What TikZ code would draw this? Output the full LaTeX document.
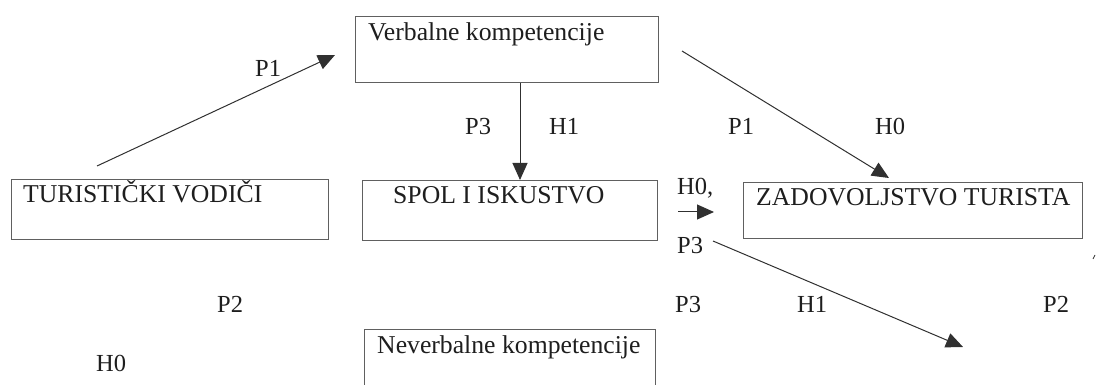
\documentclass[tikz,border=0pt]{standalone}
\usepackage{fontspec}
\setmainfont{Liberation Serif}
\usetikzlibrary{arrows.meta}
\definecolor{inkc}{HTML}{1E1E1E}
\definecolor{boxc}{HTML}{606060}
\definecolor{linec}{HTML}{303030}
\tikzset{
  boxshape/.style={draw=boxc, line width=1.1pt, inner sep=0pt, anchor=north west},
  boxtext/.style={anchor=base west, inner sep=0pt, text=inkc, font=\fontsize{25.7}{28}\selectfont},
  lbl/.style={anchor=base west, inner sep=0pt, text=inkc, font=\fontsize{24.5}{27}\selectfont},
  conn/.style={draw=linec, line width=1pt, -{Triangle[length=17pt,width=15pt]}},
}
\begin{document}
\begin{tikzpicture}[x=1pt,y=-1pt]
\useasboundingbox (0,0) rectangle (1096,385);
% boxes
\node[boxshape, minimum width=303pt, minimum height=66pt] (verb) at (355,16) {};
\node[boxshape, minimum width=317pt, minimum height=60pt] (tur) at (11,179) {};
\node[boxshape, minimum width=295pt, minimum height=60pt] (spol) at (362,180) {};
\node[boxshape, minimum width=339pt, minimum height=56pt] (zad) at (743,182) {};
\node[boxshape, minimum width=291pt, minimum height=80pt] (nev) at (364,329) {};
% box texts
\node[boxtext] (tverb) at (368,41) {Verbalne kompetencije};
\node[boxtext] (ttur) at (23,203) {TURISTIČKI VODIČI};
\node[boxtext] (tspol) at (393,204) {SPOL I ISKUSTVO};
\node[boxtext] (tzad) at (756,205) {ZADOVOLJSTVO TURISTA};
\node[boxtext] (tnev) at (377,353) {Neverbalne kompetencije};
% labels
\node[lbl] (l1) at (255,77) {P1};
\node[lbl] (l2) at (465,135) {P3};
\node[lbl] (l3) at (549,135) {H1};
\node[lbl] (l4) at (728,135) {P1};
\node[lbl] (l5) at (875,135) {H0};
\node[lbl] (l6) at (677,195) {H0,};
\node[lbl] (l7) at (677,253) {P3};
\node[lbl] (l8) at (217,312) {P2};
\node[lbl] (l9) at (675,312) {P3};
\node[lbl] (l10) at (797,312) {H1};
\node[lbl] (l11) at (1043,312) {P2};
\node[lbl] (l12) at (96,371) {H0};
% free ends
\coordinate (a1s) at (97,166);
\coordinate (a1e) at (335,55);
\coordinate (a3s) at (682,51);
\coordinate (a3e) at (889,178);
\coordinate (a4s) at (678,212);
\coordinate (a4e) at (714,212);
\coordinate (a5s) at (713,241);
\coordinate (a5e) at (963,347);
% connectors
\draw[conn] (a1s) -- (a1e);
\draw[conn] (verb.south -| 520,0) -- (spol.north -| 520,0);
\draw[conn] (a3s) -- (a3e);
\draw[conn] (a4s) -- (a4e);
\draw[conn] (a5s) -- (a5e);
% small stray mark
\draw[linec, line width=0.8pt] (1093,259) -- (1095,255);
\end{tikzpicture}
\end{document}
